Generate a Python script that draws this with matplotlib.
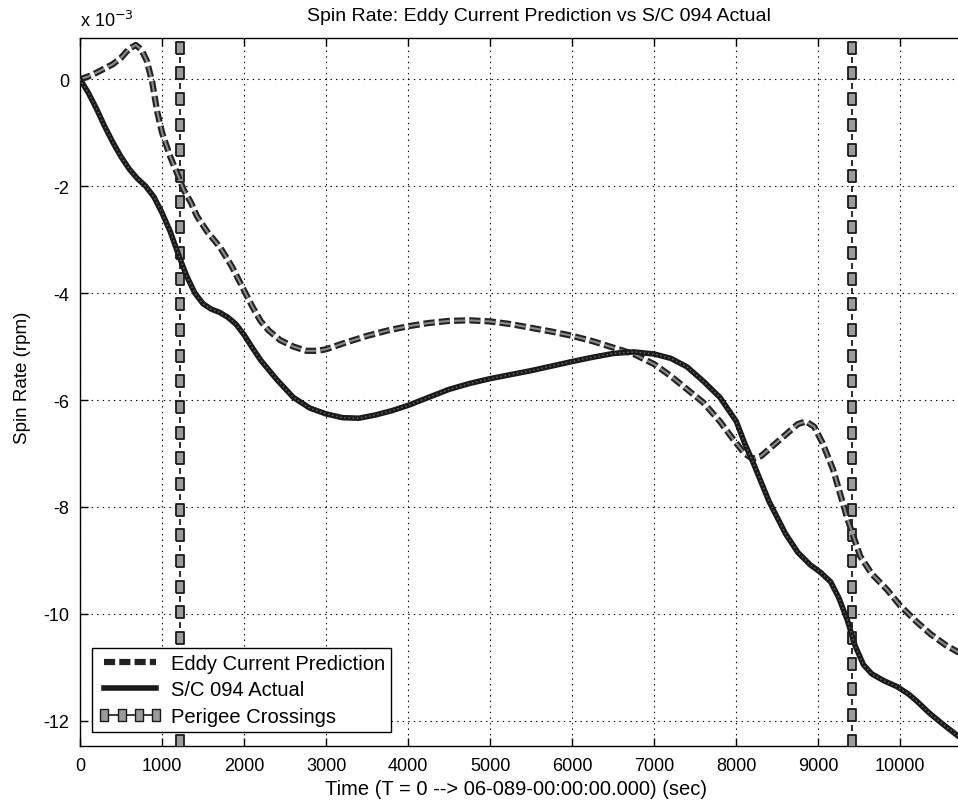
import numpy as np
import matplotlib
matplotlib.use("Agg")
import matplotlib.pyplot as plt
from matplotlib.lines import Line2D

plt.rcParams['font.family'] = ['Liberation Sans', 'DejaVu Sans']
plt.rcParams['lines.scale_dashes'] = False

# ---- data (spin rate in units of 1e-3 rpm) ----
eddy_t = [0, 100, 200, 300, 400, 500, 600, 680, 750, 815, 880, 940, 1000, 1100, 1200, 1260,
          1350, 1425, 1550, 1710, 1850, 1950, 2100, 2200, 2300, 2440, 2600, 2760, 2900, 3000,
          3250, 3500, 3750, 4000, 4250, 4500, 4750, 5000, 5250, 5500, 5750, 6000, 6250, 6500,
          6750, 7000, 7200, 7400, 7600, 7800, 7960, 8100, 8200, 8300, 8450, 8600, 8750, 8850,
          8950, 9050, 9180, 9350, 9510, 9650, 9840, 10000, 10200, 10370, 10550, 10800]
eddy_v = [0, 0.05, 0.12, 0.2, 0.28, 0.4, 0.57, 0.64, 0.55, 0.34, -0.05, -0.6, -1.0, -1.45, -1.82, -2.06,
          -2.3, -2.56, -2.85, -3.15, -3.5, -3.8, -4.25, -4.52, -4.7, -4.88, -5.0, -5.08, -5.08, -5.05,
          -4.92, -4.8, -4.7, -4.62, -4.56, -4.52, -4.51, -4.53, -4.58, -4.65, -4.72, -4.8, -4.9, -5.02,
          -5.14, -5.33, -5.55, -5.8, -6.05, -6.4, -6.73, -7.0, -7.1, -7.05, -6.85, -6.65, -6.45, -6.4,
          -6.5, -6.8, -7.3, -8.2, -8.92, -9.25, -9.55, -9.85, -10.15, -10.38, -10.58, -10.8]

actual_t = [0, 100, 200, 300, 400, 500, 600, 700, 800, 900, 1000, 1100, 1200, 1300, 1400, 1500,
            1600, 1700, 1800, 1900, 2000, 2100, 2200, 2400, 2600, 2800, 3000, 3200, 3400, 3600,
            3800, 4000, 4250, 4500, 4750, 5000, 5500, 6000, 6250, 6500, 6750, 7000, 7200, 7400,
            7600, 7800, 8000, 8100, 8200, 8400, 8600, 8750, 8900, 9024, 9150, 9250, 9350, 9450,
            9550, 9650, 9800, 9960, 10100, 10200, 10350, 10500, 10650, 10800]
actual_v = [0, -0.25, -0.55, -0.88, -1.18, -1.45, -1.68, -1.86, -2.0, -2.2, -2.5, -2.85, -3.28, -3.68, -4.0, -4.2,
            -4.3, -4.36, -4.45, -4.58, -4.78, -5.02, -5.25, -5.62, -5.95, -6.15, -6.26, -6.33, -6.34, -6.28,
            -6.2, -6.1, -5.95, -5.8, -5.69, -5.6, -5.45, -5.28, -5.2, -5.13, -5.1, -5.14, -5.22, -5.38,
            -5.65, -5.95, -6.4, -6.8, -7.15, -7.9, -8.5, -8.85, -9.08, -9.22, -9.4, -9.7, -10.1, -10.6,
            -10.95, -11.12, -11.25, -11.36, -11.5, -11.63, -11.85, -12.04, -12.22, -12.4]

perigee_t = [1220, 9410]

xticks = np.arange(0, 10001, 1000)
yticks = np.arange(-12, 1, 2)
xlim = (0, 10800)
ylim = (-12.47, 0.77)

W, H = 958, 804
fig = plt.figure(figsize=(W / 100, H / 100), dpi=100)
ax = fig.add_axes([80 / W, 57 / H, 886 / W, 708 / H])
ax.set_xlim(*xlim)
ax.set_ylim(*ylim)

ax.set_xticks(xticks)
ax.set_yticks(yticks)
ax.set_xticklabels([str(v) for v in xticks])
ax.set_yticklabels([str(v) for v in yticks])
ax.grid(True, color='black', linestyle=(0, (1, 3)), linewidth=0.8)
ax.set_axisbelow(True)
ax.tick_params(direction='in', length=6, width=1, top=True, right=True,
               labelsize=13, pad=8, colors='black')
for s in ax.spines.values():
    s.set_linewidth(1.0)

# tall rectangle marker
rect = [(-0.32, -0.5), (0.32, -0.5), (0.32, 0.5), (-0.32, 0.5), (-0.32, -0.5)]

# perigee crossings (vertical dash-dot with rectangle markers)
ys = np.arange(ylim[0] + 0.1, ylim[1] - 0.1, 0.48)
for t in perigee_t:
    ax.plot([t] * len(ys), ys, linestyle='none', marker=rect, markersize=9,
            markerfacecolor='#9a9a9a', markeredgecolor='#1a1a1a', markeredgewidth=1.3, zorder=3)
    ax.plot([t] * len(ys), ys + 0.24, linestyle='none', marker='|', markersize=5,
            color='#1a1a1a', markeredgewidth=1.3, zorder=3)

# eddy current prediction
ax.plot(eddy_t, eddy_v, color='#222222', linewidth=4.5, dashes=(8, 3), zorder=4,
        dash_capstyle='butt', dash_joinstyle='round')
ax.plot(eddy_t, eddy_v, color='#8a8a8a', linewidth=1.5, dashes=(8, 3), zorder=4,
        dash_capstyle='butt', dash_joinstyle='round')

# actual
ax.plot(actual_t, actual_v, color='#1a1a1a', linewidth=4, zorder=5,
        solid_capstyle='round', solid_joinstyle='round')
ax.plot(actual_t, actual_v, color='#6a6a6a', linewidth=1.0, zorder=5, linestyle=(0, (1, 2)))

ax.set_title('Spin Rate: Eddy Current Prediction vs S/C 094 Actual', fontsize=14, pad=13, x=0.518)
ax.set_xlabel('Time (T = 0 --> 06-089-00:00:00.000) (sec)', fontsize=14.5)
ax.xaxis.set_label_coords(0.492, -0.047)
ax.set_ylabel('Spin Rate (rpm)', fontsize=13.5)
ax.yaxis.set_label_coords(-0.055, 0.521)
ax.text(0.0, 1.012, r'x 10$^{-3}$', transform=ax.transAxes, fontsize=13,
        ha='left', va='bottom')

h_eddy = Line2D([], [], color='#222222', linewidth=4.5, dashes=(8, 3))
h_act = Line2D([], [], color='#1a1a1a', linewidth=4)
h_per = Line2D([], [], color='#1a1a1a', linewidth=1.2, linestyle='-', marker=rect, markersize=9,
               markerfacecolor='#9a9a9a', markeredgecolor='#1a1a1a')
leg = ax.legend([h_eddy, h_act, h_per],
                ['Eddy Current Prediction', 'S/C 094 Actual', 'Perigee Crossings'],
                loc='lower left', bbox_to_anchor=(12 / 886, 14 / 708), borderaxespad=0,
                fontsize=14.5, handlelength=3.2, handletextpad=0.4, labelspacing=0.38,
                borderpad=0.3, fancybox=False, framealpha=1, edgecolor='black',
                numpoints=4)
leg.get_frame().set_linewidth(1.0)
leg.set_zorder(10)

fig.savefig('out.png', dpi=100)
